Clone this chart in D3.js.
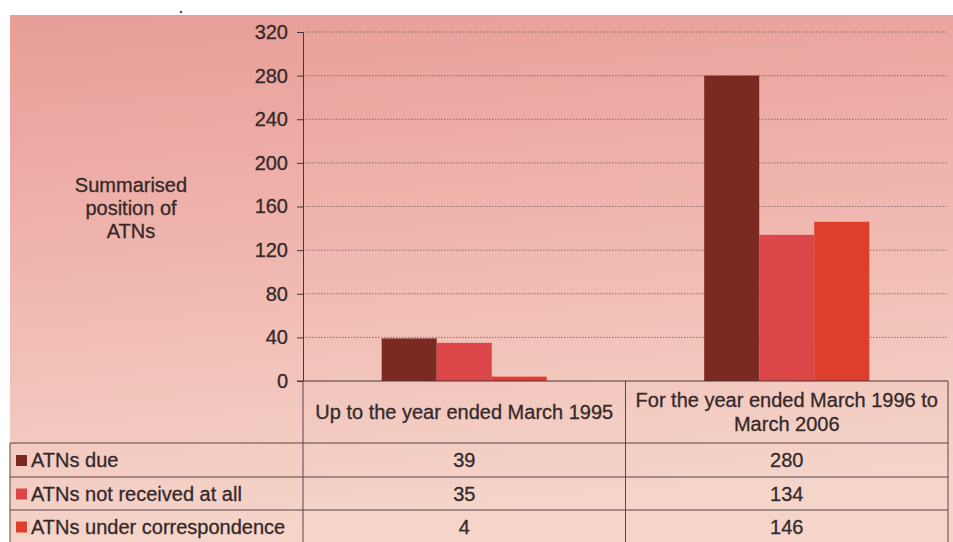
<!DOCTYPE html>
<html>
<head>
<meta charset="utf-8">
<script src="https://cdn.jsdelivr.net/npm/d3@7"></script>
<style>
  body { margin: 0; background: #fff; }
  svg { display: block; font-family: "Liberation Sans", Arial, sans-serif; }
  svg text { stroke: #35292a; stroke-width: 0.3px; }
</style>
</head>
<body>
<svg id="chart" width="953" height="542"></svg>
<script>
// data
var categories = ["Up to the year ended March 1995", "For the year ended March 1996 to March 2006"];
var categoryLines = [["Up to the year ended March 1995"], ["For the year ended March 1996 to", "March 2006"]];
var seriesNames = ["ATNs due", "ATNs not received at all", "ATNs under correspondence"];
var atnsDue = [39, 280];
var atnsNotReceived = [35, 134];
var atnsUnderCorr = [4, 146];
var yTicks = [0, 40, 80, 120, 160, 200, 240, 280, 320];
var seriesColors = ["#7a2923", "#dc4648", "#de3f2c"];

var seriesValues = [atnsDue, atnsNotReceived, atnsUnderCorr];

var svg = d3.select("#chart");
var W = 953, H = 542;
var plotLeft = 303, plotRight = 948, plotTop = 32, plotBase = 381;
var tableLeft = 10, headerBottom = 443, rowBottoms = [477, 510, 543];
var ink = "#35292a";
var fs = "20px";

// background gradient (scanned pink)
var defs = svg.append("defs");
var grad = defs.append("linearGradient").attr("id", "bg")
    .attr("x1", 0).attr("y1", 0).attr("x2", 0.15).attr("y2", 1);
grad.append("stop").attr("offset", "0%").attr("stop-color", "#e89d98");
grad.append("stop").attr("offset", "45%").attr("stop-color", "#efb5ad");
grad.append("stop").attr("offset", "100%").attr("stop-color", "#f5d5ca");

svg.append("rect").attr("x", tableLeft).attr("y", 15)
    .attr("width", W - tableLeft).attr("height", H - 15)
    .attr("fill", "url(#bg)");

// small speck at the top
svg.append("circle").attr("cx", 181).attr("cy", 12).attr("r", 1.3).attr("fill", "#6a4a55");

var y = d3.scaleLinear().domain([0, 320]).range([plotBase, plotTop]);
var x0 = d3.scaleBand().domain(categories).range([plotLeft, plotRight]);
var x1 = d3.scaleBand().domain(seriesNames).range([0, x0.bandwidth()]).paddingOuter(1.43);

// dotted gridlines
svg.append("g").selectAll("line")
    .data(yTicks.filter(function(d){ return d > 0; }))
    .enter().append("line")
    .attr("x1", plotLeft).attr("x2", plotRight)
    .attr("y1", function(d){ return y(d); }).attr("y2", function(d){ return y(d); })
    .attr("stroke", "#6e5655").attr("stroke-width", 1)
    .attr("stroke-dasharray", "1.5,1.5").attr("opacity", 0.75);

// bars
categories.forEach(function(cat, ci){
    svg.append("g").selectAll("rect")
        .data(seriesNames)
        .enter().append("rect")
        .attr("x", function(s){ return x0(cat) + x1(s); })
        .attr("width", x1.bandwidth())
        .attr("y", function(s, si){ return y(seriesValues[si][ci]); })
        .attr("height", function(s, si){ return plotBase - y(seriesValues[si][ci]); })
        .attr("fill", function(s, si){ return seriesColors[si]; });
});

// y axis
var yAxis = svg.append("g")
    .attr("transform", "translate(" + plotLeft + ",0)")
    .call(d3.axisLeft(y).tickValues(yTicks).tickSize(6).tickPadding(9));
yAxis.select(".domain").attr("stroke", "#4a3636");
yAxis.selectAll(".tick line").attr("stroke", "#4a3636");
yAxis.selectAll("text").attr("fill", ink).style("font-size", fs)
    .style("font-family", "'Liberation Sans', Arial, sans-serif");

// baseline
svg.append("line").attr("x1", plotLeft - 6).attr("x2", plotRight)
    .attr("y1", plotBase).attr("y2", plotBase).attr("stroke", "#4a3636");

// y title
var title = svg.append("text").attr("text-anchor", "middle")
    .attr("fill", ink).style("font-size", fs);
["Summarised", "position of", "ATNs"].forEach(function(t, i){
    title.append("tspan").attr("x", 131).attr("y", 192 + i * 23).text(t);
});

// data table
var tbl = svg.append("g").attr("stroke", "#5a4444").attr("stroke-width", 1);
[plotLeft, x0(categories[1]), plotRight].forEach(function(xv){
    tbl.append("line").attr("x1", xv).attr("x2", xv).attr("y1", plotBase).attr("y2", rowBottoms[2]);
});
tbl.append("line").attr("x1", tableLeft).attr("x2", tableLeft).attr("y1", headerBottom).attr("y2", rowBottoms[2]);
tbl.append("line").attr("x1", tableLeft).attr("x2", plotRight).attr("y1", headerBottom).attr("y2", headerBottom);
rowBottoms.forEach(function(yv){
    tbl.append("line").attr("x1", tableLeft).attr("x2", plotRight).attr("y1", yv).attr("y2", yv);
});

// header text
categories.forEach(function(cat, ci){
    var lines = categoryLines[ci];
    var cx = x0(cat) + x0.bandwidth() / 2;
    var mid = (plotBase + headerBottom) / 2 + 7;
    lines.forEach(function(l, li){
        svg.append("text").attr("x", cx)
            .attr("y", mid + (li - (lines.length - 1) / 2) * 24)
            .attr("text-anchor", "middle").attr("fill", ink)
            .style("font-size", fs).text(l);
    });
});

// rows
var rowTops = [headerBottom].concat(rowBottoms.slice(0, 2));
seriesNames.forEach(function(s, si){
    var cy = (rowTops[si] + rowBottoms[si]) / 2;
    svg.append("rect").attr("x", 16).attr("y", cy - 5).attr("width", 11).attr("height", 11)
        .attr("fill", seriesColors[si]);
    svg.append("text").attr("x", 31).attr("y", cy + 7)
        .attr("fill", ink).style("font-size", fs).text(s);
    categories.forEach(function(cat, ci){
        svg.append("text").attr("x", x0(cat) + x0.bandwidth() / 2).attr("y", cy + 7)
            .attr("text-anchor", "middle").attr("fill", ink)
            .style("font-size", fs).text(seriesValues[si][ci]);
    });
});
</script>
</body>
</html>
